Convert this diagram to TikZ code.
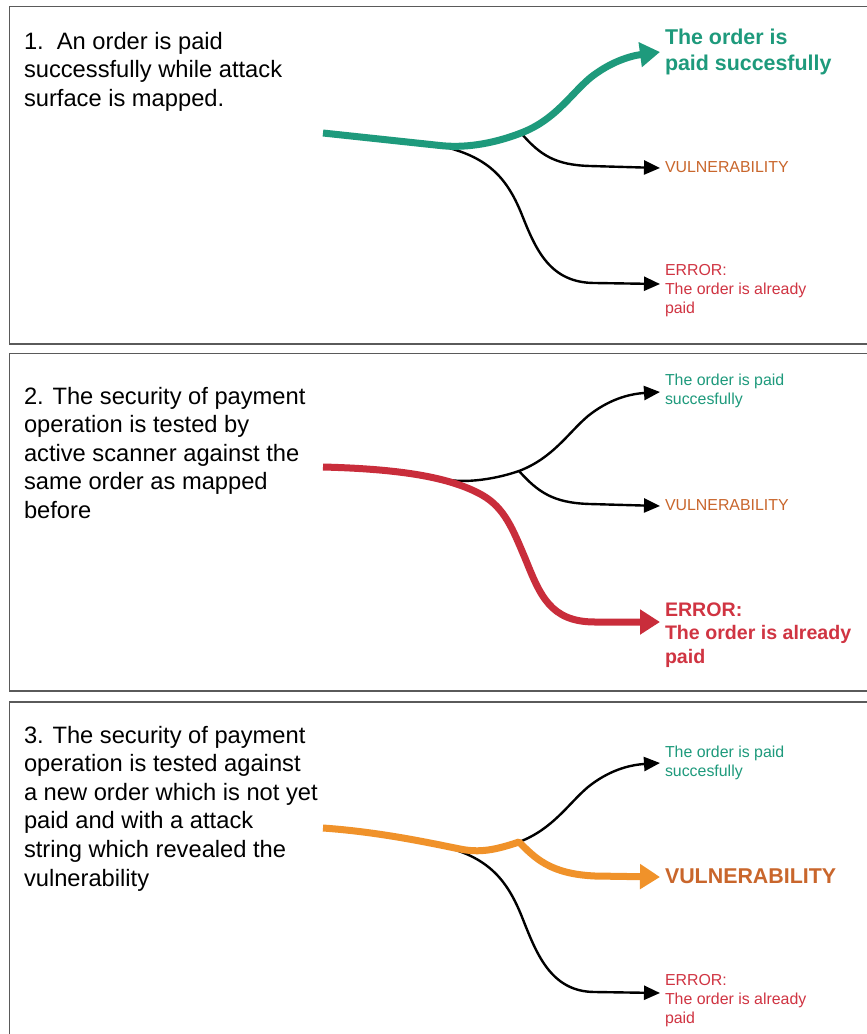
\documentclass[tikz,border=0pt]{standalone}
\usepackage{fontspec}
\setmainfont{Liberation Sans}
\usetikzlibrary{arrows.meta}

\definecolor{paidgreen}{HTML}{1E9A7C}
\definecolor{errred}{HTML}{D03442}
\definecolor{errline}{HTML}{C92D3B}
\definecolor{vulnline}{HTML}{F0922A}
\definecolor{vulntext}{HTML}{C9662C}
\definecolor{framegray}{HTML}{5A5A5A}

\tikzset{
  panel/.style={draw=framegray, line width=1.3pt},
  branch/.style={draw=black, line width=2.4pt, line cap=round,
    -{Triangle[length=16pt,width=14pt]}},
  hotpath/.style={line width=7pt, line join=round,
    -{Triangle[length=20pt,width=24pt]}},
  lbl/.style={anchor=base west, inner sep=0pt, outer sep=0pt},
  story/.style={lbl, text=black, font=\fontsize{23.7}{28.6}\selectfont},
  smalllbl/.style={lbl, font=\fontsize{15.9}{19.2}\selectfont},
  boldlbl/.style={lbl, font=\bfseries\fontsize{21.4}{26}\selectfont},
  errlbl/.style={lbl, font=\bfseries\fontsize{19.6}{23.5}\selectfont},
}

\begin{document}
\begin{tikzpicture}[x=1pt, y=-1pt]
\useasboundingbox (0,0) rectangle (867,1034);
\clip (0,0) rectangle (867,1034);
\fill[white] (0,0) rectangle (867,1034);

% three panels, open to the right
\draw[panel] (9.5,6.5) rectangle (900,344);
\draw[panel] (9.5,353.5) rectangle (900,691);
\draw[panel] (9.5,702) rectangle (900,1100);

% ---------------- panel 1 ----------------
\node[story] (d1) at (24,49) {\parbox[t]{300pt}{1.\ \ An order is paid\\successfully while attack\\surface is mapped.}};

\coordinate (s1) at (323,133);
\coordinate (f1) at (445,147);
\coordinate (j1) at (521,133);
\coordinate (t1a) at (660,52);
\coordinate (t1b) at (660,168);
\coordinate (t1c) at (660,284);

\node[boldlbl, text=paidgreen] (ok1) at (665,44) {\parbox[t]{220pt}{The order is\\paid succesfully}};
\node[smalllbl, text=vulntext] (vu1) at (665,172) {VULNERABILITY};
\node[smalllbl, text=errred] (er1) at (665,275) {\parbox[t]{200pt}{ERROR:\\The order is already\\paid}};

\draw[branch] (j1) .. controls (540,155) and (555,165) .. (590,166) -- (t1b);
\draw[branch] (f1) .. controls (490,158) and (508,180) .. (522,215)
  .. controls (536,250) and (550,283) .. (595,283) -- (t1c);
\draw[hotpath, paidgreen] (s1) -- (440,145.5) .. controls (462,148) and (490,145) .. (j1)
  .. controls (555,120) and (570,95) .. (590,78)
  .. controls (610,62) and (630,56) .. (t1a);

% ---------------- panel 2 ----------------
\node[story] (d2) at (24,404) {\parbox[t]{300pt}{2. The security of payment\\operation is tested by\\active scanner against the\\same order as mapped\\before}};

\coordinate (s2) at (323,467);
\coordinate (f2) at (445,479);
\coordinate (j2) at (519,471);
\coordinate (t2a) at (660,392);
\coordinate (t2b) at (660,506);
\coordinate (t2c) at (660,622);

\node[smalllbl, text=paidgreen] (ok2) at (665,385) {\parbox[t]{200pt}{The order is paid\\succesfully}};
\node[smalllbl, text=vulntext] (vu2) at (665,510) {VULNERABILITY};
\node[errlbl, text=errred] (er2) at (665,616) {\parbox[t]{200pt}{ERROR:\\The order is already\\paid}};

\draw[branch] (f2) .. controls (460,483) and (490,481) .. (j2)
  .. controls (553,458) and (568,433) .. (588,416)
  .. controls (608,400) and (628,394) .. (t2a);
\draw[branch] (j2) .. controls (538,492) and (553,503) .. (590,504) -- (t2b);
\draw[hotpath, errline] (s2) .. controls (400,469) and (450,477) .. (482,495)
  .. controls (505,508) and (513,530) .. (525,558)
  .. controls (540,595) and (550,622) .. (595,622) -- (t2c);

% ---------------- panel 3 ----------------
\node[story] (d3) at (24,743) {\parbox[t]{300pt}{3. The security of payment\\operation is tested against\\a new order which is not yet\\paid and with a attack\\string which revealed the\\vulnerability}};

\coordinate (s3) at (323,828);
\coordinate (f3) at (445,847);
\coordinate (j3) at (519,842);
\coordinate (t3a) at (660,763);
\coordinate (t3b) at (660,877);
\coordinate (t3c) at (660,993);

\node[smalllbl, text=paidgreen] (ok3) at (665,757) {\parbox[t]{200pt}{The order is paid\\succesfully}};
\node[boldlbl, text=vulntext] (vu3) at (665,883) {VULNERABILITY};
\node[smalllbl, text=errred] (er3) at (665,985) {\parbox[t]{200pt}{ERROR:\\The order is already\\paid}};

\draw[branch] (j3) .. controls (553,829) and (568,804) .. (588,787)
  .. controls (608,771) and (628,765) .. (t3a);
\draw[branch] (f3) .. controls (490,858) and (508,882) .. (522,917)
  .. controls (536,952) and (550,992) .. (595,992) -- (t3c);
\draw[hotpath, vulnline] (s3) .. controls (380,832) and (430,843) .. (460,849)
  .. controls (480,853) and (495,850) .. (j3)
  .. controls (535,858) and (550,874) .. (595,876) -- (t3b);
\end{tikzpicture}
\end{document}
